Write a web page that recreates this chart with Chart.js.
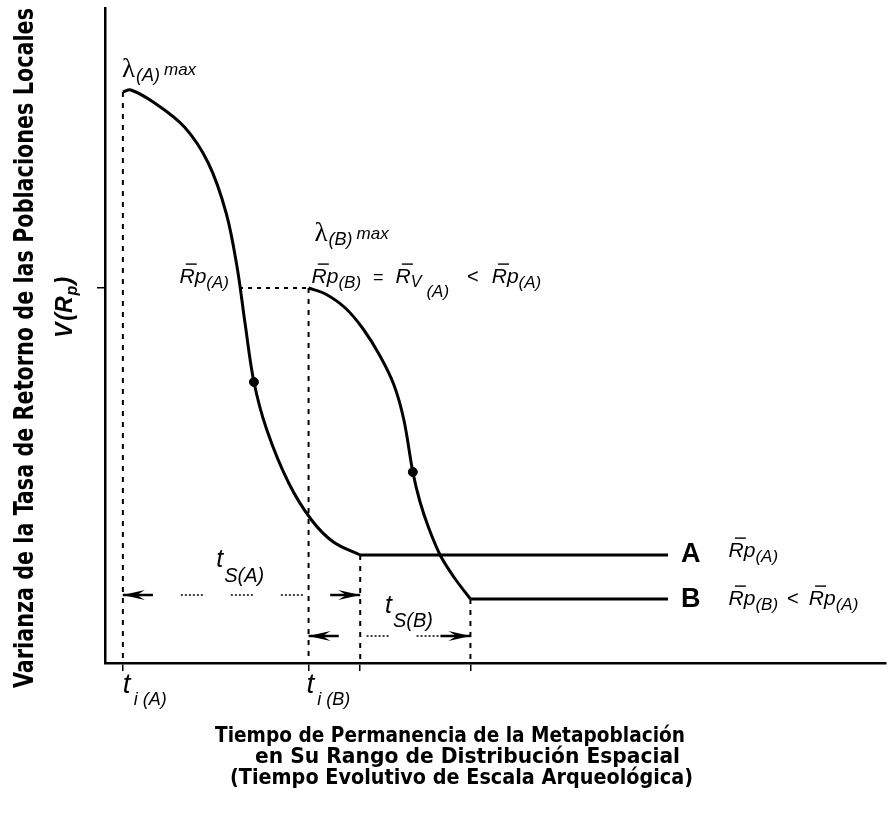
<!DOCTYPE html>
<html>
<head>
<meta charset="utf-8">
<script src="https://cdn.jsdelivr.net/npm/chart.js@4/dist/chart.umd.min.js"></script>
<style>
  html, body { margin: 0; padding: 0; background: #fff; }
</style>
</head>
<body>
<canvas id="chart" width="891" height="814"></canvas>
<script>
// Curve A: return-rate variance of population A while it declines
const curveAX = [18, 26, 50, 80, 104, 122, 133, 141, 150, 163, 185, 208, 230, 257];
const curveAY = [571, 573, 560, 536, 500, 450, 396, 340, 281, 233, 180, 143, 121, 108];
// Curve B: starts later, at the level R̄p(A)
const curveBX = [205, 222, 242, 260, 277, 291, 301, 310, 317, 326, 338, 352, 368];
const curveBY = [375, 369, 355, 334, 307, 278, 243, 191, 162, 135, 107, 85, 64];
// both curves level off until this time
const plateauEnd = 567;
// inflection points marked on each curve
const inflectionX = [150, 310];
const inflectionY = [281, 191];
// t_i and end-of-decline times, and the levels they connect to
const startTimes = [18, 205];
const endTimes = [257, 368];
const peakLevels = [571, 375];
const plateauLevels = [108, 64];
const rpLevel = 375;
const rpCrossX = 135;
// heights of the t_S(A), t_S(B) spans
const spanLevels = [68, 27];

const xTicks = [...startTimes, ...endTimes];
const yTicks = [rpLevel];

const FONT_SANS = '"Liberation Sans", Arial, sans-serif';
const FONT_SERIF = '"Liberation Serif", "Times New Roman", serif';
const FONT_NARROW = '"Liberation Sans Narrow", "DejaVu Sans Condensed", "Liberation Sans", sans-serif';

const xy = (xs, ys) => xs.map((x, i) => ({x, y: ys[i]}));

function part(t, size, opts = {}) {
  return Object.assign({t, size}, opts);
}
function rBar(sub, after = 0, size = 21, subSize = 17) {
  return [part('R', size, {bar: true}), part('p', size), part(sub, subSize, {dy: 5, gap: after})];
}
function fontOf(p) {
  return `${p.style || 'italic'} ${p.weight || 'normal'} ${p.size}px ${p.family || FONT_SANS}`;
}

function drawRich(ctx, parts, x, y, rotate = 0) {
  ctx.save();
  ctx.translate(x, y);
  if (rotate) ctx.rotate(rotate);
  ctx.fillStyle = '#000';
  ctx.strokeStyle = '#000';
  ctx.textAlign = 'left';
  ctx.textBaseline = 'alphabetic';
  let cx = 0;
  for (const p of parts) {
    ctx.font = fontOf(p);
    const w = ctx.measureText(p.t).width;
    const dy = p.dy || 0;
    ctx.fillText(p.t, cx, dy);
    if (p.bar) {
      ctx.lineWidth = 1.4;
      ctx.beginPath();
      ctx.moveTo(cx + p.size * 0.3, dy - p.size * 0.9);
      ctx.lineTo(cx + w + p.size * 0.1, dy - p.size * 0.9);
      ctx.stroke();
    }
    cx += w + (p.gap || 0);
  }
  ctx.restore();
}

function drawFitted(ctx, text, font, x, y, width, rotate = 0) {
  ctx.save();
  ctx.translate(x, y);
  if (rotate) ctx.rotate(rotate);
  ctx.font = font;
  ctx.fillStyle = '#000';
  ctx.textAlign = 'left';
  ctx.textBaseline = 'alphabetic';
  const w = ctx.measureText(text).width;
  ctx.scale(width / w, 1);
  ctx.fillText(text, 0, 0);
  ctx.restore();
}

const lambda = sub => [
  part('λ', 27, {style: 'normal', family: FONT_SERIF, gap: 1}),
  part(sub, 18, {dy: 4, gap: 4}),
  part('max', 17, {dy: -2})
];

// text labels placed in data units
const labels = [
  {x: 17, y: 586, parts: lambda('(A)')},
  {x: 211, y: 422, parts: lambda('(B)')},
  {x: 75, y: 380, parts: rBar('(A)')},
  {x: 208, y: 380, parts: [
    ...rBar('(B)', 12), part('=', 18, {style: 'normal', gap: 12}),
    part('R', 21, {bar: true}), part('V', 16, {dy: 4, gap: 5}), part('(A)', 17, {dy: 14, gap: 18}),
    part('<', 20, {style: 'normal', gap: 13}), ...rBar('(A)')
  ]},
  {x: 112, y: 96, parts: [part('t', 25, {gap: 1}), part('S(A)', 20, {dy: 15})]},
  {x: 282, y: 50, parts: [part('t', 25, {gap: 1}), part('S(B)', 20, {dy: 14})]},
  {x: 18, y: -30, parts: [part('t', 28, {gap: 3}), part('i', 18, {dy: 12, gap: 5}), part('(A)', 18, {dy: 12})]},
  {x: 203, y: -30, parts: [part('t', 28, {gap: 3}), part('i', 18, {dy: 12, gap: 5}), part('(B)', 18, {dy: 12})]},
  {x: 580, y: 101, parts: [part('A', 27, {style: 'normal', weight: 'bold'})]},
  {x: 628, y: 106, parts: rBar('(A)')},
  {x: 580, y: 56, parts: [part('B', 27, {style: 'normal', weight: 'bold'})]},
  {x: 628, y: 58, parts: [...rBar('(B)', 9), part('<', 20, {style: 'normal', gap: 10}), ...rBar('(A)')]}
];

const annotationPlugin = {
  id: 'annotations',
  afterDraw(chart) {
    const {ctx, scales: {x, y}} = chart;
    for (const l of labels) {
      drawRich(ctx, l.parts, x.getPixelForValue(l.x), y.getPixelForValue(l.y));
    }
    // y-axis titles
    drawFitted(ctx, 'Varianza de la Tasa de Retorno de las Poblaciones Locales',
      `bold 26px ${FONT_NARROW}`, 33, 688, 680, -Math.PI / 2);
    drawRich(ctx, [
      part('V', 23, {weight: 'bold', gap: 2}), part('(', 23, {weight: 'bold'}),
      part('R', 23, {weight: 'bold', gap: 1}), part('p', 16, {weight: 'bold', dy: 5, gap: 1}),
      part(')', 23, {weight: 'bold'})
    ], 72, 338, -Math.PI / 2);
    // x-axis title
    drawFitted(ctx, 'Tiempo de Permanencia de la Metapoblación', `bold 22px ${FONT_NARROW}`, 215, 742, 470);
    drawFitted(ctx, 'en Su Rango de Distribución Espacial', `bold 22px ${FONT_NARROW}`, 255, 763, 425);
    drawFitted(ctx, '(Tiempo Evolutivo de Escala Arqueológica)', `bold 22px ${FONT_NARROW}`, 230, 784, 463);
  }
};

// arrowheads on both ends of the t_S spans
const arrowPlugin = {
  id: 'arrowheads',
  afterDatasetsDraw(chart) {
    const ctx = chart.ctx;
    chart.data.datasets.forEach((ds, i) => {
      if (!ds.arrows) return;
      const pts = chart.getDatasetMeta(i).data;
      const a = pts[0], b = pts[pts.length - 1];
      [[a, -1], [b, 1]].forEach(([p, dir]) => {
        ctx.save();
        ctx.fillStyle = '#000';
        ctx.beginPath();
        ctx.moveTo(p.x, p.y);
        ctx.lineTo(p.x - dir * 22, p.y - 5);
        ctx.lineTo(p.x - dir * 14, p.y);
        ctx.lineTo(p.x - dir * 22, p.y + 5);
        ctx.closePath();
        ctx.fill();
        ctx.lineWidth = 2.5;
        ctx.beginPath();
        ctx.moveTo(p.x, p.y);
        ctx.lineTo(p.x - dir * 30, p.y);
        ctx.stroke();
        ctx.restore();
      });
    });
  }
};

const curveStyle = {
  borderColor: '#000', borderWidth: 3, pointRadius: 0, tension: 0.35, fill: false
};
const dashStyle = {
  borderColor: '#000', borderWidth: 2, pointRadius: 0, fill: false, borderDash: [5, 6]
};
const spanStyle = {
  borderColor: '#000', borderWidth: 1.5, pointRadius: 0, fill: false, arrows: true,
  borderDash: [2, 2, 2, 2, 2, 2, 2, 2, 2, 2, 2, 28], borderDashOffset: -8
};

const datasets = [
  {data: xy(curveAX, curveAY), ...curveStyle},
  {data: xy(curveBX, curveBY), ...curveStyle},
  {data: [{x: endTimes[0], y: plateauLevels[0]}, {x: plateauEnd, y: plateauLevels[0]}], ...curveStyle},
  {data: [{x: endTimes[1], y: plateauLevels[1]}, {x: plateauEnd, y: plateauLevels[1]}], ...curveStyle},
  {type: 'scatter', data: xy(inflectionX, inflectionY), pointRadius: 4.5,
   backgroundColor: '#000', borderColor: '#000'},
  {data: [{x: startTimes[0], y: peakLevels[0]}, {x: startTimes[0], y: 0}], ...dashStyle},
  {data: [{x: startTimes[1], y: peakLevels[1]}, {x: startTimes[1], y: 0}], ...dashStyle},
  {data: [{x: rpCrossX, y: rpLevel}, {x: startTimes[1], y: rpLevel}], ...dashStyle, borderDash: [4, 5]},
  {data: [{x: endTimes[0], y: plateauLevels[0]}, {x: endTimes[0], y: 0}], ...dashStyle},
  {data: [{x: endTimes[1], y: plateauLevels[1]}, {x: endTimes[1], y: 0}], ...dashStyle},
  {data: [{x: startTimes[0], y: spanLevels[0]}, {x: endTimes[0], y: spanLevels[0]}], ...spanStyle},
  {data: [{x: startTimes[1], y: spanLevels[1]}, {x: endTimes[1], y: spanLevels[1]}], ...spanStyle}
];

function axis(max, ticks) {
  return {
    type: 'linear', min: 0, max,
    ticks: {display: false},
    grid: {display: true, drawOnChartArea: false, drawTicks: true, tickLength: 8, color: '#000', lineWidth: 1.5},
    border: {display: true, color: '#000', width: 2.5},
    afterBuildTicks: s => { s.ticks = ticks.map(v => ({value: v})); }
  };
}

new Chart(document.getElementById('chart'), {
  type: 'line',
  data: {datasets},
  options: {
    responsive: false,
    animation: false,
    devicePixelRatio: 1,
    layout: {padding: {left: 97, top: 8, right: 0, bottom: 143}},
    plugins: {legend: {display: false}, tooltip: {enabled: false}},
    scales: {x: axis(786, xTicks), y: axis(655, yTicks)}
  },
  plugins: [arrowPlugin, annotationPlugin]
});
</script>
</body>
</html>
